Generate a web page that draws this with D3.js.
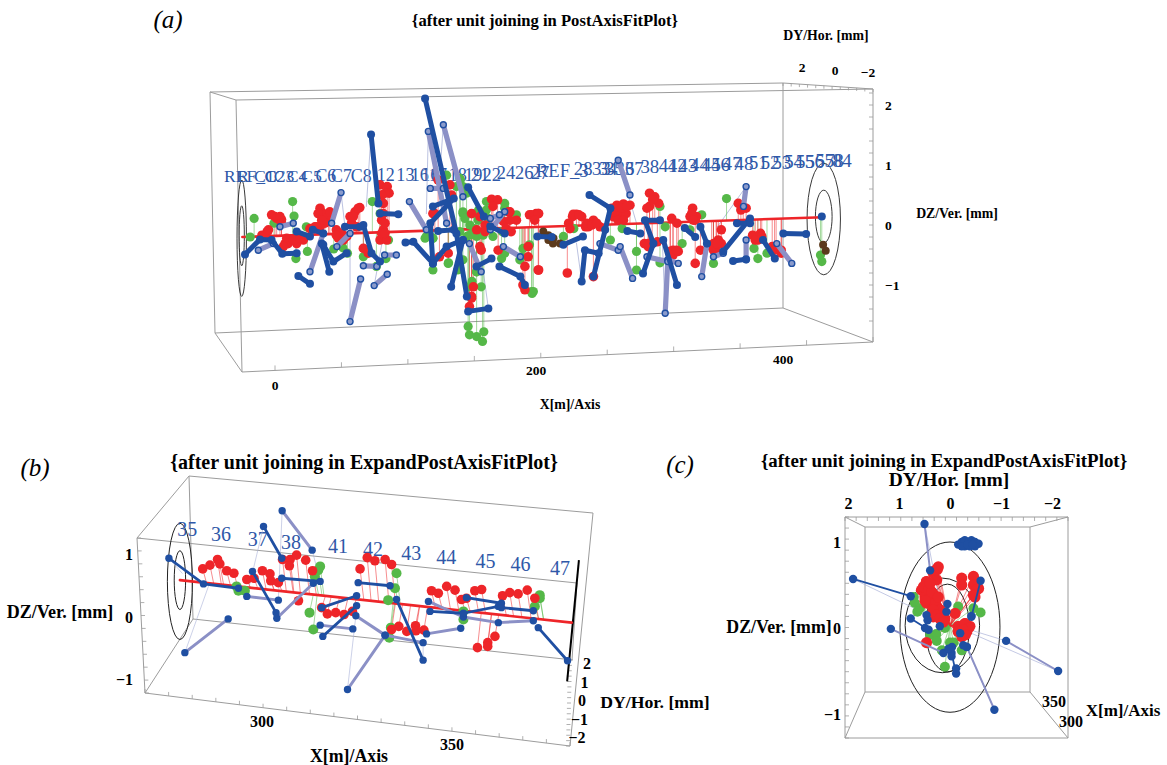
<!DOCTYPE html>
<html><head><meta charset="utf-8">
<script src="https://cdn.jsdelivr.net/npm/d3@7"></script>
<style>html,body{margin:0;background:#fff}svg{display:block}text{font-family:"Liberation Serif",serif}</style>
</head><body><svg id="c" width="1167" height="765"></svg>
<script>
// ---------- Panel (a): X[m], DZ[mm]
const aAxis=[[-25,-.2],[420,.13]];
const aDark=[
[[-23,-.49],[-11.5,-.24],[-2.6,-.25],[5.6,-.48],[16.6,-.47]],
[[17.9,-.85],[26.8,-.98]],[[35.8,-.31],[41.6,-.78]],[[37,-.33],[44.7,-.61],[54.9,-.47]],
[[73.6,1.51],[79.2,.36]],[[80.5,.19],[94.5,.18]],[[67.7,0],[74,-.47],[80.5,-.61]],
[[115,2.11],[139,-.14],[147,-1.19]],[[148,-1.44],[163.5,-1.39]],
[[100,-.29],[106,-.28],[121,-.64],[131.5,-.36],[144,-.25]],[[148,.63],[160,.14]],[[135,-1.03],[144,-.25]],
[[121,.31],[137,.44],[119,.03],[121,-.64]],[[172,-.69],[188,-.86],[191.5,-1]],[[154.4,-.69],[165.9,-.56]],
[[241,.5],[257,.28],[253,-.08],[244,-.86]],[[235,-.94],[237.5,-.42],[248,-.47]],
[[282,-.81],[290,-.31],[283.5,.08],[295,.08]],[[308,-1],[297.5,-.25]],[[331,-.31],[326,-.03]],
[[351,-.6],[361,-.57]],[[343.5,-.44],[364,.11]],[[374,-.25],[383,-.56]],[[389.5,-.14],[407,-.15]],
[[354,.03],[364,.03]],[[221,-.33],[236,-.19]],[[16.6,-.11],[26.8,-.19]],[[53.6,-.03],[65,-.03]],[[125,-.1],[137,-.08]],[[165,-.02],[176,-.14]],[[201,-.19],[212,-.2]],[[270,-.1],[280,-.14]],[[314,-.05],[322,-.2]],[[29,-.08],[37,-.14]]];
const aPurple=[
[[50.6,.54],[43.4,.03]],[[26.8,-.78],[37,-.14]],[[57.5,-1.61],[65.6,-.9]],[[76,-1.01],[86,-.82]],
[[-12.8,-.42],[-1.3,-.31]],[[103,.39],[116,-.08]],[[117.5,1.56],[131.5,.03]],[[129,1.67],[144,.47]],
[[119,.61],[129,.61]],[[67.7,-.68],[78,-.69]],[[84,-.5],[93,-.5]],[[149,-.31],[158,-.78]],[[165,-.08],[176,.22]],
[[175,-.36],[188,-.53]],[[3.8,-.03],[14,.03]],[[263,1.08],[272,.5]],[[249,-.31],[263,-.42]],[[264.5,-.36],[274,-.89]],
[[299,-1.47],[301,-.58],[309,-.64]],[[285,-.53],[301,-.61]],[[327,-.86],[331,-.31]],[[361,.64],[359,.31]],
[[361,-.25],[361,-.58]],[[384.5,-.31],[396,-.64]],[[336,-.53],[343.5,-.47]],[[47.4,-.36],[57.5,-.14]],[[172,.17],[165,.11]]];
const aThin=[[[73.6,1.51],[70,.31]],[[57.5,-1.61],[57.5,-.08]],[[117.5,1.56],[116,.19]],[[129,1.67],[126,.75]],
[[163.5,-1.39],[157,-.36]],[[263,1.08],[277,.03]],[[361,.64],[339,-.03]],[[299,-1.47],[297,-.36]],[[235,-.94],[231,-.3]],[[76,-1.01],[82,-.3]],[[50.6,.54],[54,-.1]]];
const aRed=[[-10,-.17],[-6,-.11],[-2.6,.17],[1.3,.11],[5,.09],[7.7,-.31],[11.5,-.25],[16.6,-.31],[21.7,-.25],[9,-.22],
[30.6,-.03],[26.8,-.06],[34.5,.28],[37,.19],[41,.14],[38.3,.03],[34.5,-.03],[47,-.08],[51,-.14],[55,-.19],[48.5,-.22],
[57.5,.14],[61.3,.22],[65,.29],[58.7,.03],[67.7,-.39],[71.5,-.47],[80.5,.67],[86,.64],[87.4,.53],[83,.36],[81.7,.08],[83,-.08],[80.5,-.25],[85.6,-.25],
[125,.75],[134,.67],[121,.19],[166,.43],[170.6,.42],[167,.31],[180,.22],[195,.17],[200,.19],[185,.08],[191.5,-1.08],[190,-1],[191.5,-.69],
[154.5,-.08],[152,-1.03],[150.6,-1.19],[202,.19],[202,-.75],[224,-.8],[225,.03],[228,.14],[231,.18],[235,.14],[226,-.06],[238,-.03],[240,-.03],[244,.08],[249,-.03],[244,-.86],
[258,.28],[262,.33],[267,.35],[272,.33],[259,.14],[264,.19],[269,.19],[287,.53],[291,.47],[287,.31],[294,.36],[283,-.31],[289,-.31],[293,-.28],[286,-.36],
[304,.11],[308,.03],[303,-.44],[305,-.5],[309,-.44],[305,-.42],[320,.28],[318,.14],[323,.14],[322,.08],[322,-.64],[326,-.42],[336,-.31],[342,-.31],[338,-.42],[336,-.42],[342,-.08],
[355,.36],[361,.28],[357,.25],[366,-.17],[372,-.14],[370,-.25],[381,-.36],[388,-.47],[384,-.39],
[161,0],[161,-.11],[171,-.42],[175,.06],[179,.22],[180,.08],[177,-.06],[181,-.11],[196.6,.17],[201.7,.19],[199,.08],[194,-.36],[194,-.53],[201.7,-.75],[150.6,.19],[149,-1.36],[150.6,-1.22],[126,-.53],[122.5,.19],[135.3,.5],[132.7,-.47],[157,.14],[157,-.36],[158,-.42],
[-7.7,-.17],[-5,-.08],[0,.14],[3.8,.14],[5,.03],[10,-.31],[14,-.25],[19,-.22],[6.4,-.36],[33,.19],[35.8,.08],[32,-.03],[42,.22],[47,-.17],[52.4,-.25],[60,.14],[63.8,.28],[62.6,-.03],[84.3,.53],[81.7,.5],[83,.19],[84.3,.03],[81.7,-.14],[84.3,-.14],
[228.6,.18],[232.9,.17],[238.8,.03],[242.7,0],[246.5,.03],[260.5,.22],[265.6,.28],[269.5,.31],[263,.08],[267,.08],[289.4,.42],[285,.28],[286,-.31],[302.7,-.47],[307.8,-.42],[319.3,.19],[320.5,.08],[334.6,-.36],[339.7,-.25],[338.4,-.31],[358.8,.3],[368,-.25],[373,-.19],[382.8,-.42],[387.9,-.42]];
const aGreen=[[-19,-.2],[-16,.11],[-.8,.03],[13.5,.39],[14.6,.15],[16,-.56],[24.8,-.44],[24,-.03],[45,-.4],[52,-.38],[55.5,-.47],[74.6,.39],[80.5,.19],[67.7,-.53],[77.7,-.69],[85,-.56],[87,-.25],
[121,-.22],[116,-.19],[121,-.75],[131.5,.83],[142,.75],[144,.64],[144,.19],[152,.19],[156,.25],[151,-.14],[154.5,-.19],[147,-.19],[133,-.63],[140,-.75],[154.5,-.78],[151,-.94],[158,-1.03],
[148,-1.69],[149,-1.83],[154.5,-1.86],[159,-1.94],[160,-1.78],[162,.39],[174,-.11],[176,.28],[185,.17],[189,-.53],[173.6,-.56],[198,-1.11],[197,-1.14],[229,-.06],[221,-.19],[257,-.25],[266,-.06],
[277,-.44],[277,-.75],[295,.31],[299,-.03],[295,-.63],[312,-.31],[318,-.08],[327,.17],[346,.44],[336,-.64],[367,-.39],[370,-.56],[377,-.47],[418,-.5],[419,-.61],
[141.6,.78],[139,.64],[146.8,.53],[144,.22],[145.5,.11],[149.3,0],[153,-.06],[155.7,.08],[162,.25],[163.4,.11],[159.5,-.17],[167,-.19],[149.3,-.17],[141.6,-.11],[144,-.58],[132.7,-.64],[141.6,-.72],[154.4,-.78],[148,-1.03],[115,-.22],[121,-.22],[176,.36],[176,-.47],[187.6,-.58],[190,-.39],[196.6,-1.11],[195,-.33]];
const aBrown=[[205.6,-.11],[209.5,-.17],[213.4,-.22],[209.5,-.25],[213,-.31],[218.4,-.31],[420,-.33],[422,-.43]];
const aEnd=[[419,.14]];
const aEllipses=[[-25.5,-.22,3.6,.97],[-25.5,-.18,2,.5],[420.5,.1,12.8,.93],[420.5,.14,6.4,.44]];
const aLabels=[["REF_C",-39,.72],["R",-29,.72],["C1",-16,.72],["C2",-8,.72],["C3",-1,.72],["C4",9,.72],["C5",20,.72],["C6",31,.72],["C7",43,.72],["C8",58,.72],
["12",78,.74],["13",93,.74],["16",104,.74],["16",112,.74],["17",118,.74],["18",133,.74],["19",145,.74],["21",150,.74],["22",159,.74],["24",170,.76],["26",184,.76],["27",196,.76],
["REF_3",200,.8],["28",229,.84],["33",243,.84],["34",248,.84],["35",253,.84],["36",261,.84],["37",268,.84],["38",280,.86],["41",294,.88],["42",301,.88],["43",309,.88],["44",318,.9],["45",327,.9],["46",334,.9],["47",343,.92],["48",352,.92],["51",363,.94],["52",372,.94],["53",381,.94],["54",390,.95],["55",399,.95],["56",406,.95],["57",414,.97],["58",421,.97],["84",427,.97]];
const aZTicks=[2,1,0,-1], aYTicks=[2,0,-2], aXTicks=[0,200,400], aXMinor=[0,50,100,150,200,250,300,350,400,450];
const aZMinor=[-1.6,-1.4,-1.2,-1,-.8,-.6,-.4,-.2,0,.2,.4,.6,.8,1,1.2,1.4,1.6,1.8,2,2.2];

// ---------- Panel (b): X[m], DZ[mm]
const bAxis=[[278.4,.59],[381.5,-.09]];
const bDark=[[[275.5,.94],[284.6,.53],[293.8,.46]],[[300.4,1.45],[305.2,.94]],[[297.5,.73],[303.7,.07]],[[305.2,.62],[315.3,.57]],
[[316,-.31],[324.9,.18]],[[315.7,.15],[324.9,.34]],[[325.3,.55],[333.7,.5]],[[335.4,.28],[342.4,-.69]],[[344.2,.09],[353,.06],[362.2,.17]],[[353.8,.31],[363,.22]],[[372.7,-.17],[380.4,-.7]],[[363,.15],[371.4,.1]]];
const bPurple=[[[279.7,-.57],[291.1,-.03]],[[296,.33],[304.3,.27]],[[305.3,1.7],[313.2,1.07]],[[303.9,-.02],[313.5,.54]],[[315.3,-.13],[323.9,-.19]],
[[324.7,.02],[332.4,-.29],[342.4,-.41]],[[322.5,-1.16],[332.4,-.29]],[[343.3,-.27],[352.3,-.18]],[[343.8,.25],[353,0],[362.2,-.09],[371.4,-.06]]];
const bThin=[[[279.7,-.57],[285.9,.49]],[[300.4,1.45],[296,.33]],[[305.3,1.7],[304.3,.27]],[[322.5,-1.16],[324.7,.02]],[[342.4,-.69],[342.4,-.41]],[[313.2,1.07],[315.3,.57]],[[275.5,.94],[279,.7]]];
const bRed=[[284.4,.77],[286.3,.83],[288.3,.92],[288.9,.85],[290.7,.74],[292.6,.7],[296,.6],[297.9,.62],[300.1,.74],[302.1,.69],[302.3,.58],[304.3,.55],[305.4,.92],[307.4,.92],[307.2,.82],[309.1,.99],[311.5,.91],[313.3,.74],[309.6,.26],
[315.7,.15],[317.2,.05],[319.4,.07],[321.6,.04],[323.8,.09],[325.8,.77],[327.7,.95],[329.7,.9],[332.4,.92],[334.1,.84],[334.1,-.2],[336,-.15],[338.1,-.23],[340.4,-.14],[340.5,-.22],[342.6,-.21],
[344.6,.42],[346.4,.38],[348.6,.49],[350.8,.43],[352.5,.28],[353.8,.3],[356,.42],[357.8,.44],[356.7,-.49],[359.4,-.41],[359.4,-.47],[361.3,-.31],[363.3,.34],[365.2,.39],[367.4,.37],[369.8,.43],[371.8,.3]];
const bGreen=[[293.3,.49],[293.8,.42],[295.5,.42],[315.3,.81],[314.8,.75],[313.9,.65],[312.5,.07],[313.5,-.2],[335.4,.7],[335,.46],[333.2,.27],[333.9,-.17],[333.5,-.33],[353,.09],[353,-.04],[373.1,.35],[373.1,.3],[371.8,.17]];
const bEllipses=[[278.4,.57,3.3,.93],[278.4,.59,1.5,.47]];
const bEndLine=[[383.4,.91],[380.3,-1.03]];
const bLabels=[["35",280.3,1.3],["36",289.2,1.22],["37",298.9,1.14],["38",307.6,1.09],["41",320,1.02],["42",329.2,.97],["43",339.3,.91],["44",348.5,.85],["45",358.8,.79],["46",368,.73],["47",378.4,.67]];
const bZTicks=[1,0,-1], bYTicks=[2,1,0,-1,-2], bXTicks=[300,350];

// ---------- Panel (c): DY[mm], DZ[mm]
const cDark=[[[1.9,.57],[.77,.37]],[[.77,.11],[.42,-.02]],[[-.6,.55],[-.42,.13]],[[-.12,-.53],[-.03,-.29]]];
const cPurple=[[[.5,1.21],[.39,.67]],[[1.16,-.01],[.13,-.29]],[[-2.12,-.5],[-1.1,-.15]],[[-.87,-.95],[-.33,-.22]]];
const cThin=[[[1.9,.57],[.07,.05]],[[-2.12,-.5],[-.26,-.02]],[[-1.1,-.15],[0,.05]],[[-.87,-.95],[-.2,-.06]],[[.5,1.21],[.13,.09]]];
const cRed=[[.25,.68],[.33,.64],[.26,.56],[.46,.54],[.49,.46],[.39,.44],[.56,.44],[.39,.36],[.49,.36],[.36,.29],[.26,.25],[.26,.19],[.2,.13],[.33,.13],[.1,.11],[-.23,.58],[-.23,.5],[-.46,.6],[-.46,.5],[-.56,.46],[-.49,.36],[-.29,.05],[-.39,.02],[-.33,-.04],[-.23,-.1],[.46,-.17],[-.16,.02],[.42,.48],[.33,.4],[.2,.21],[.46,.29],[.33,.21],[-.26,.02],
[.29,.67],[.23,.71],[.46,.54],[.52,.48],[.42,.44],[.39,.36],[.29,.29],[.2,.21],[.49,.32],[.33,.21],[.26,.15],[.2,.11],[.13,.07],[.36,.42],[.23,.36],[.39,.52],[-.52,.44],[-.46,.38],[-.1,.17],[-.3,.05],[-.36,0],[-.16,-.04],[-.26,-.02],[-.3,-.08]];
const cGreen=[[.71,.36],[.69,.29],[.59,.23],[.64,.19],[.39,-.08],[.27,-.07],[.26,-.15],[.1,-.45],[.16,-.26],[-.23,-.26],[-.46,.23],[-.6,.18],[-.16,.25],[-.07,-.17],[0,-.17],[.1,0]];
const cBlue=[[.05,.28],[.07,.19],[.46,.15],[.44,.09],[.49,0],[.2,.02],[-.42,.14],[-.2,-.06],[0,-.25],[-.03,-.33],[-.12,-.47],[-.33,-.22],[-.26,-.2],[-.04,-.22],[.03,-.24]];
const cClump=[[-.16,.97],[-.23,1],[-.29,1.02],[-.36,1],[-.42,1.02],[-.49,1],[-.56,.98],[-.39,.95],[-.29,.95],[-.49,.95],[-.23,.95],[-.34,.97],[-.44,.97]];
const cEllipses=[[0,.01,.98,.99],[.15,.03,.73,.55],[.05,0,.43,.51]];
const cCentre=[0,.03];
const cZTicks=[1,0,-1], cYTicks=[2,1,0,-1,-2], cXTicks=[350,300];

// ---------- styling
const col={dark:"#1f4fa2",purple:"#8b90c6",thin:"#aab2d8",red:"#ee2529",green:"#55b848",brown:"#5c3a1c",text:"#2f58a8",frame:"#9c9c9c"};
const svg=d3.select("#c");
function txt(g,s,x,y,o={}){return g.append("text").attr("x",x).attr("y",y).attr("text-anchor",o.a||"middle")
 .attr("font-size",o.s||13).attr("font-weight",o.b===false?"normal":"bold").attr("font-style",o.i?"italic":"normal").attr("fill",o.f||"#000").text(s);}
function frame(g,lines,c,w){g.selectAll(null).data(lines).join("line").attr("x1",d=>d[0]).attr("y1",d=>d[1]).attr("x2",d=>d[2]).attr("y2",d=>d[3]).attr("stroke",c||col.frame).attr("stroke-width",w||1);}
function ticks(g,A,B,n,dx,dy){const t=d3.range(n+1).map(i=>i/n),ix=d3.interpolateNumber(A[0],B[0]),iy=d3.interpolateNumber(A[1],B[1]);
 g.selectAll(null).data(t).join("line").attr("x1",d=>ix(d)).attr("y1",d=>iy(d)).attr("x2",d=>ix(d)+dx).attr("y2",d=>iy(d)+dy).attr("stroke",col.frame).attr("stroke-width",.8);}
function ell(g,list,sx,sy,w){g.selectAll(null).data(list).join("ellipse").attr("cx",d=>sx(d[0])).attr("cy",d=>sy(d[1]))
 .attr("rx",d=>Math.abs(sx(d[2])-sx(0))).attr("ry",d=>Math.abs(sy(d[3])-sy(0))).attr("fill","none").attr("stroke","#222").attr("stroke-width",w||1);}
function marks(g,p,sx,sy,st){
 const line=d3.line().x(d=>sx(d[0])).y(d=>sy(d[1]));
 const paths=(a,c,w,o)=>g.append("g").selectAll("path").data(a).join("path").attr("d",line).attr("fill","none").attr("stroke",c).attr("stroke-width",w).attr("stroke-linecap","round").attr("stroke-linejoin","round").attr("opacity",o||1);
 const dots=(a,c,r,o={})=>g.append("g").selectAll("circle").data(a).join("circle").attr("cx",d=>sx(d[0])).attr("cy",d=>sy(d[1])).attr("r",r).attr("fill",c).attr("stroke",o.s||"none").attr("stroke-width",o.w||0);
 const target=p.target;
 paths(p.thin,col.thin,st.thinW);
 paths((p.green||[]).map(d=>[d,target(d)]),col.green,.7,.75);
 paths((p.red||[]).map(d=>[d,target(d)]),col.red,.7,.75);
 if(p.axis) paths([p.axis],col.red,st.axisW);
 dots(p.green,col.green,st.rg);
 if(p.brown) dots(p.brown,col.brown,st.r);
 dots(p.red,col.red,st.rr);
 paths(p.purple,col.purple,st.purpleW);
 if(st.ring) dots(p.purple.flat(),"#8b9bcc",st.r-1,{s:col.dark,w:1.4}); else dots(p.purple.flat(),col.dark,st.r);
 paths(p.dark,col.dark,st.darkW);
 dots(p.dark.flat(),col.dark,st.r);
 if(p.blue) dots(p.blue,col.dark,st.r);
}

// ========== Panel a
{
 const g=svg.append("g");
 const sx=d3.scaleLinear().domain([0,400]).range([275,797]);
 const sy=d3.scaleLinear().domain([-1,2]).range([285,105]);
 frame(g,[[210,92,783,83],[236,100,873,89],[210,92,236,100],[210,92,215,333],[236,100,242,372],[215,333,783,308],[215,333,242,372],[242,372,873,342],[783,83,873,89],[783,83,783,308],[783,308,873,342],[873,89,873,342]]);
 const mx=d3.scaleLinear().domain([0,450]).range([275,873]);
 const edge=d3.scaleLinear().domain([242,873]).range([372,342]);
 g.selectAll(null).data(aXMinor).join("line").attr("x1",d=>mx(d)).attr("x2",d=>mx(d)).attr("y1",d=>edge(mx(d))).attr("y2",d=>edge(mx(d))-5).attr("stroke",col.frame).attr("stroke-width",.8);
 g.selectAll(null).data(aZMinor).join("line").attr("x1",873).attr("x2",869).attr("y1",d=>sy(d)).attr("y2",d=>sy(d)).attr("stroke",col.frame).attr("stroke-width",.8);
 ticks(g,[783,83],[873,89],11,0,3);
 ell(g,aEllipses,sx,sy,.9);
 const tgt=d3.scaleLinear().domain([aAxis[0][0],aAxis[1][0]]).range([aAxis[0][1],aAxis[1][1]]);
 const fs=d3.scaleLinear().domain([-40,430]).range([17.5,19.5]);
 g.selectAll(null).data(aLabels).join("text").attr("x",d=>sx(d[1])).attr("y",d=>sy(d[2])).attr("font-size",d=>fs(d[1])).attr("fill",col.text).text(d=>d[0]);
 marks(g,{axis:aAxis,dark:aDark,purple:aPurple,thin:aThin,red:aRed,green:aGreen,brown:aBrown,blue:aEnd,target:d=>[d[0],tgt(d[0])]},sx,sy,{r:4,rr:4.8,rg:4.6,darkW:5,purpleW:5.2,axisW:2.6,thinW:.8,ring:true});
 const zAxis=d3.axisRight(sy).tickValues(aZTicks).tickSize(0).tickPadding(0).tickFormat(d3.format("d"));
 const za=g.append("g").attr("transform","translate(885,0)").call(zAxis); za.select(".domain").remove();
 za.selectAll("text").attr("font-size",13.5).attr("font-weight","bold").attr("font-family","Liberation Serif").attr("fill","#000");
 const xT=d3.scaleLinear().domain([0,200,400]).range([275,536,783]), yT=d3.scaleLinear().domain([0,200,400]).range([390,375,364]);
 g.selectAll(null).data(aXTicks).join("text").attr("x",d=>xT(d)).attr("y",d=>yT(d)).attr("text-anchor","middle").attr("font-size",13.5).attr("font-weight","bold").text(d=>d);
 const yX=d3.scaleLinear().domain([2,-2]).range([802,868]), yY=d3.scaleLinear().domain([2,-2]).range([72,77]);
 g.selectAll(null).data(aYTicks).join("text").attr("x",d=>yX(d)).attr("y",d=>yY(d)).attr("text-anchor","middle").attr("font-size",13.5).attr("font-weight","bold").text(d=>d3.format("d")(d));
 txt(g,"(a)",168,28,{s:25,i:true,b:false});
 txt(g,"{after unit joining in PostAxisFitPlot}",545,26,{s:16.6});
 txt(g,"DY/Hor. [mm]",826,40,{s:13.8});
 txt(g,"DZ/Ver. [mm]",957,218,{s:13.8});
 txt(g,"X[m]/Axis",570,409,{s:13.8});
}
// ========== Panel b
{
 const g=svg.append("g");
 const sx=d3.scaleLinear().domain([300,350]).range([262,452]);
 const sy=d3.scaleLinear().domain([-1,1]).range([679.5,554.5]);
 frame(g,[[137,538,577,583],[189,476,593,513],[137,538,189,476],[137,538,145,693],[189,476,193,619],[145,693,193,619],[193,619,573,660],[145,693,570,746],[593,513,570,746],[577,583,572,660]]);
 ticks(g,[145,693],[570,746],18,0,-4);
 ticks(g,[572,660],[570,746],16,-4,0);
 ticks(g,[137,538],[145,693],12,4,0);
 ell(g,bEllipses,sx,sy,1);
 const tgt=d3.scaleLinear().domain([bAxis[0][0],bAxis[1][0]]).range([bAxis[0][1],bAxis[1][1]]);
 g.selectAll(null).data(bLabels).join("text").attr("x",d=>sx(d[1])).attr("y",d=>sy(d[2])).attr("text-anchor","middle").attr("font-size",20).attr("fill",col.text).text(d=>d[0]);
 g.append("line").attr("x1",sx(bEndLine[0][0])).attr("y1",sy(bEndLine[0][1])).attr("x2",sx(bEndLine[1][0])).attr("y2",sy(bEndLine[1][1])).attr("stroke","#000").attr("stroke-width",2);
 marks(g,{axis:bAxis,dark:bDark,purple:bPurple,thin:bThin,red:bRed,green:bGreen,target:d=>[d[0]+1,tgt(d[0]+1)]},sx,sy,{r:3.7,rr:4.8,rg:5,darkW:2.8,purpleW:3,axisW:2.6,thinW:.6});
 const za=g.append("g").attr("transform","translate(133,0)").call(d3.axisLeft(sy).tickValues(bZTicks).tickSize(0).tickPadding(0).tickFormat(d3.format("d"))); za.select(".domain").remove();
 za.selectAll("text").attr("font-size",16).attr("font-weight","bold").attr("font-family","Liberation Serif").attr("fill","#000");
 const yX=d3.scaleLinear().domain([2,-2]).range([587,577]), yY=d3.scaleLinear().domain([2,-2]).range([669,743]);
 g.selectAll(null).data(bYTicks).join("text").attr("x",d=>yX(d)).attr("y",d=>yY(d)).attr("text-anchor","middle").attr("font-size",16).attr("font-weight","bold").text(d=>d3.format("d")(d));
 const xT=d3.scaleLinear().domain([300,350]).range([262,452]), yT=d3.scaleLinear().domain([300,350]).range([727,750]);
 g.selectAll(null).data(bXTicks).join("text").attr("x",d=>xT(d)).attr("y",d=>yT(d)).attr("text-anchor","middle").attr("font-size",16).attr("font-weight","bold").text(d=>d);
 txt(g,"(b)",35,476,{s:25,i:true,b:false});
 txt(g,"{after unit joining in ExpandPostAxisFitPlot}",364,469,{s:20});
 txt(g,"DY/Hor. [mm]",655,708,{s:17.7});
 txt(g,"DZ/Ver. [mm]",60,618,{s:18});
 txt(g,"X[m]/Axis",349,762,{s:17.8});
}
// ========== Panel c
{
 const g=svg.append("g");
 const sx=d3.scaleLinear().domain([2,-2]).range([848,1052]);
 const sy=d3.scaleLinear().domain([-1,1]).range([714,542]);
 frame(g,[[845,517,1068,517],[845,517,845,738],[845,738,1068,738],[1068,517,1068,738],[865,527,1030,527],[865,527,865,692],[865,692,1030,692],[1030,527,1030,692],[845,517,865,527],[1068,517,1030,527],[845,738,865,692],[1068,738,1030,692]]);
 ticks(g,[845,517],[1068,517],20,0,4);
 ticks(g,[845,517],[845,738],20,4,0);
 ell(g,cEllipses,d3.scaleLinear().domain([-2,2]).range([1052,848]),sy,1);
 marks(g,{dark:cDark,purple:cPurple,thin:cThin,red:cRed,green:cGreen,blue:cBlue,target:d=>cCentre},sx,sy,{r:4.2,rr:5.6,rg:5,darkW:1.8,purpleW:2,axisW:2,thinW:.7});
 g.append("g").selectAll("circle").data(cClump).join("circle").attr("cx",d=>sx(d[0])).attr("cy",d=>sy(d[1])).attr("r",4.2).attr("fill",col.dark);
 const za=g.append("g").attr("transform","translate(841,0)").call(d3.axisLeft(sy).tickValues(cZTicks).tickSize(0).tickPadding(0).tickFormat(d3.format("d"))); za.select(".domain").remove();
 za.selectAll("text").attr("font-size",16).attr("font-weight","bold").attr("font-family","Liberation Serif").attr("fill","#000");
 const ya=g.append("g").attr("transform","translate(0,509)").call(d3.axisTop(sx).tickValues(cYTicks).tickSize(0).tickPadding(0).tickFormat(d3.format("d"))); ya.select(".domain").remove();
 ya.selectAll("text").attr("font-size",16).attr("font-weight","bold").attr("font-family","Liberation Serif").attr("fill","#000");
 const xT=d3.scaleOrdinal().domain(cXTicks).range([1054,1071]), yT=d3.scaleOrdinal().domain(cXTicks).range([707,727]);
 g.selectAll(null).data(cXTicks).join("text").attr("x",d=>xT(d)).attr("y",d=>yT(d)).attr("text-anchor","middle").attr("font-size",16).attr("font-weight","bold").text(d=>d);
 txt(g,"(c)",680,473,{s:25,i:true,b:false});
 txt(g,"{after unit joining in ExpandPostAxisFitPlot}",944,467,{s:18.9});
 txt(g,"DY/Hor. [mm]",949,486,{s:19.5});
 txt(g,"DZ/Ver. [mm]",779,633,{s:17.8});
 txt(g,"X[m]/Axis",1123,716,{s:17});
}
</script></body></html>
